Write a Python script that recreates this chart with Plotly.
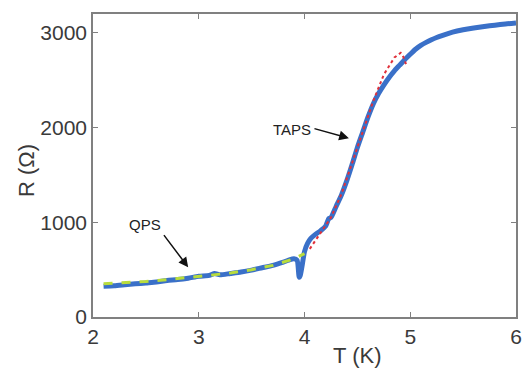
import plotly.graph_objects as go

# Measured R(T) data (blue)
T_data = [2.10, 2.2, 2.3, 2.4, 2.5, 2.6, 2.7, 2.8, 2.9, 3.0, 3.1, 3.15, 3.2, 3.3, 3.4, 3.5,
          3.6, 3.7, 3.8, 3.85, 3.9, 3.93, 3.95, 3.96, 3.98, 4.0, 4.03, 4.06, 4.1, 4.15, 4.2,
          4.23, 4.25, 4.3, 4.35, 4.4, 4.45, 4.5, 4.55, 4.6, 4.65, 4.7, 4.75, 4.8, 4.85, 4.9,
          4.95, 5.0, 5.05, 5.1, 5.15, 5.2, 5.25, 5.3, 5.4, 5.5, 5.6, 5.7, 5.8, 5.9, 6.0]
R_data = [325, 330, 340, 350, 360, 370, 385, 395, 410, 430, 440, 460, 445, 460, 475, 495,
          520, 545, 580, 600, 615, 600, 420, 440, 560, 690, 780, 830, 870, 910, 960,
          1040, 1050, 1170, 1290, 1440, 1610, 1790, 1950, 2110, 2250, 2360, 2450, 2530, 2600, 2660,
          2720, 2775, 2828, 2868, 2900, 2928, 2952, 2972, 3008, 3033, 3052, 3068, 3082, 3095, 3105]

# QPS fit (green dashed)
T_qps = [2.1, 2.3, 2.5, 2.7, 2.9, 3.1, 3.3, 3.5, 3.7, 3.9, 4.0]
R_qps = [350, 360, 375, 395, 415, 440, 465, 500, 545, 615, 670]

# TAPS fit (red dotted)
T_taps = [4.05, 4.15, 4.25, 4.35, 4.45, 4.55, 4.65, 4.75, 4.85, 4.91, 4.93, 4.96]
R_taps = [720, 880, 1050, 1300, 1620, 1950, 2280, 2560, 2740, 2790, 2760, 2670]

x_ticks = [2, 3, 4, 5, 6]
y_ticks = [0, 1000, 2000, 3000]

fig = go.Figure()
fig.add_trace(go.Scatter(x=T_data, y=R_data, mode="lines",
                         line=dict(color="#3a70c8", width=5, shape="spline", smoothing=0.6),
                         showlegend=False))
fig.add_trace(go.Scatter(x=T_qps, y=R_qps, mode="lines",
                         line=dict(color="#b8dc3c", width=3, dash="dash"), showlegend=False))
fig.add_trace(go.Scatter(x=T_taps, y=R_taps, mode="lines",
                         line=dict(color="#e0303a", width=2, dash="dot"), showlegend=False))

axis_common = dict(showline=True, linecolor="#808080", linewidth=1.5, mirror="ticks",
                   ticks="inside", ticklen=5, tickcolor="#808080", showgrid=False,
                   zeroline=False, tickfont=dict(family="Liberation Sans, Arial", size=21, color="#3a3a3a"))

fig.update_xaxes(range=[2, 6], tickvals=x_ticks, **axis_common)
fig.update_yaxes(range=[0, 3200], tickvals=y_ticks, **axis_common)

txt = dict(family="Liberation Sans, Arial", size=15, color="#222222")
fig.add_annotation(x=2.49, y=976, text="QPS", showarrow=False, font=txt)
fig.add_annotation(x=2.90, y=525, ax=2.66, ay=881, axref="x", ayref="y", text="",
                   showarrow=True, arrowhead=2, arrowsize=1.3, arrowwidth=1.5, arrowcolor="#111111")
fig.add_annotation(x=3.88, y=1983, text="TAPS", showarrow=False, font=txt)
fig.add_annotation(x=4.42, y=1889, ax=4.08, ay=1994, axref="x", ayref="y", text="",
                   showarrow=True, arrowhead=2, arrowsize=1.3, arrowwidth=1.5, arrowcolor="#111111")

# Plot area in page pixels: x 93..516, y 12..317 (page has 8px body offset)
PL, PR, PT, PB = 93, 516, 12, 317
W, H = PR - PL, PB - PT

fig.add_annotation(x=(357 - PL) / W, y=-(356 - PB) / H, xref="paper", yref="paper",
                   text="T (K)", showarrow=False, xanchor="center", yanchor="middle",
                   font=dict(family="Liberation Sans, Arial", size=22, color="#3a3a3a"))
fig.add_annotation(x=-(PL - 27) / W, y=(PB - 170) / H, xref="paper", yref="paper",
                   text="R (Ω)", showarrow=False, textangle=-90, xanchor="center", yanchor="middle",
                   font=dict(family="Liberation Sans, Arial", size=22, color="#3a3a3a"))

fig.update_layout(width=522, height=361, margin=dict(l=PL - 8, r=522 - (PR - 8), t=PT - 8, b=361 - (PB - 8)),
                  plot_bgcolor="white", paper_bgcolor="white")

fig.write_html("out.html")
